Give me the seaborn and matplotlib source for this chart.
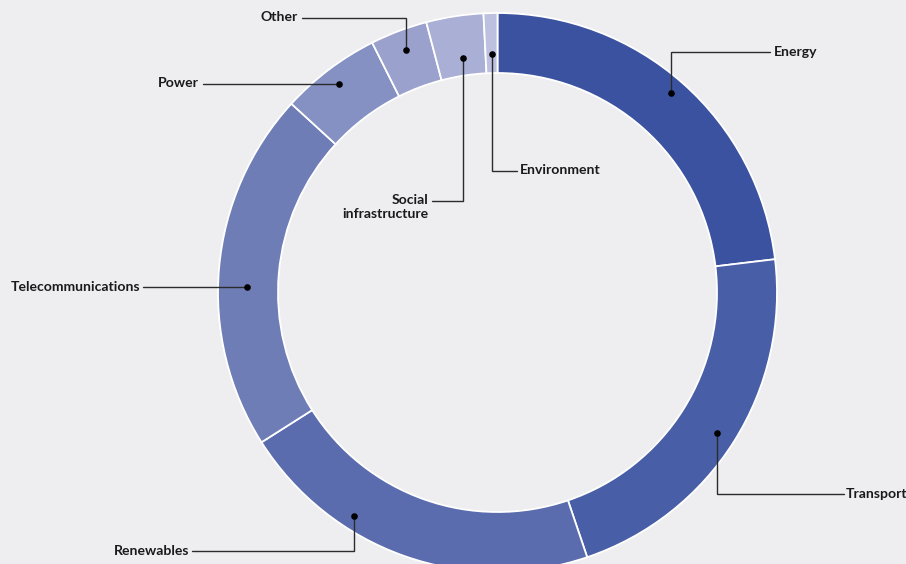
import matplotlib
matplotlib.use("Agg")
import matplotlib.pyplot as plt
import seaborn as sns
import numpy as np

sectors = ["Energy", "Transport", "Renewables", "Telecommunications", "Power",
           "Other", "Social infrastructure", "Environment"]
shares = [23.1, 21.7, 21.2, 20.8, 5.8, 3.3, 3.3, 0.8]
label_texts = ["Energy", "Transport", "Renewables", "Telecommunications", "Power",
               "Other", "Social\ninfrastructure", "Environment"]

colors = ["#3a52a0", "#485ea6", "#5b6cae", "#6f7db7", "#8590c3",
          "#9aa1cc", "#aaafd5", "#bdc1df"]

sns.set_theme(style="white")
plt.rcParams['font.family'] = ['Lato', 'DejaVu Sans']
BG = "#eeeef1"

fig = plt.figure(figsize=(9.06, 5.64), dpi=100, facecolor=BG)
ax = fig.add_axes([0, 0, 1, 1])
ax.set_facecolor(BG)

cx, cy, R = 497.5, 292.5, 279.5
ax.pie(shares, colors=colors, center=(cx, cy), radius=R, startangle=-90,
       counterclock=True, frame=True,
       wedgeprops=dict(width=60, edgecolor="white", linewidth=1.3))
ax.set_xlim(0, 906)
ax.set_ylim(564, 0)
ax.set_aspect('equal')
ax.axis('off')

# leader layout: path points (first = dot), text anchor, alignment
layout = [
    dict(path=[(671, 93), (671, 52), (770, 52)], text=(774, 52), ha="left"),
    dict(path=[(717, 433), (717, 494), (844, 494)], text=(846, 494), ha="left"),
    dict(path=[(354, 516), (354, 551), (192, 551)], text=(189, 551), ha="right"),
    dict(path=[(247, 287), (143, 287)], text=(140, 287), ha="right"),
    dict(path=[(339, 84), (203, 84)], text=(199, 83), ha="right"),
    dict(path=[(406, 50), (406, 18), (302, 18)], text=(298, 17), ha="right"),
    dict(path=[(463, 58), (463, 201), (432, 201)], text=(428, 207), ha="right"),
    dict(path=[(492, 54), (492, 171), (517, 171)], text=(520, 170), ha="left"),
]

for txt, lay in zip(label_texts, layout):
    xs = [p[0] for p in lay["path"]]
    ys = [p[1] for p in lay["path"]]
    ax.plot(xs, ys, color="#2b2b2b", lw=1.0, solid_joinstyle="miter", zorder=5)
    ax.scatter([xs[0]], [ys[0]], s=14, color="black", zorder=6)
    ax.text(lay["text"][0], lay["text"][1], txt, ha=lay["ha"], va="center",
            fontsize=10.1, fontweight="bold", color="#1a1a1a",
            linespacing=1.1, multialignment="right", zorder=7)

fig.savefig("out.png", dpi=100, facecolor=BG)
